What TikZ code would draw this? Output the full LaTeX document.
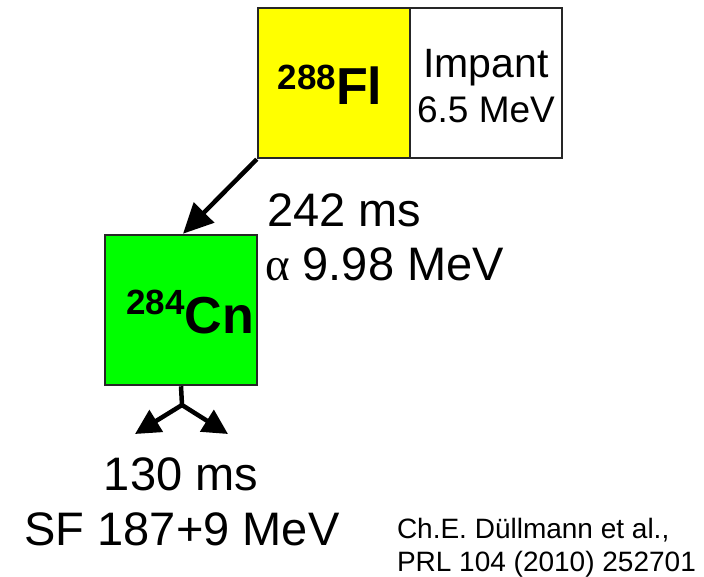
\documentclass[tikz,border=0pt]{standalone}
\usepackage{fontspec}
\setmainfont{Liberation Sans}
\newfontfamily\grkfont{Liberation Serif}
\usetikzlibrary{arrows.meta,calc}
\newcommand\fsz[1]{\fontsize{#1}{#1}\selectfont}
\definecolor{flyellow}{RGB}{255,255,0}
\definecolor{cngreen}{RGB}{0,255,0}
\tikzset{
  nucbox/.style={draw=black!85, line width=2.5pt, minimum width=152pt, minimum height=150pt, inner sep=0pt},
  txt/.style={inner sep=0pt, outer sep=0pt, text=black},
  decay/.style={line width=4.5pt, -{Triangle[length=30pt,width=28pt]}},
  sfarrow/.style={line width=4.5pt, -{Triangle[length=25pt,width=25pt]}},
}
\begin{document}
\begin{tikzpicture}[x=1pt,y=-1pt]
\useasboundingbox (0,0) rectangle (704,577);
% boxes
\node[nucbox, fill=flyellow] (fl) at (334,83) {};
\node[nucbox, fill=white] (imp) at (486,83) {};
\node[nucbox, fill=cngreen] (cn) at (181,310) {};
% box labels
\node[txt, anchor=base] (fllab) at (330,105) {\bfseries\raisebox{15pt}{\fsz{35}288}\fsz{52}Fl};
\node[txt, anchor=base] (implab) at (486,78) {\fsz{41}Impant};
\node[txt, anchor=base] (impe) at (486,123) {\fsz{37}6.5 MeV};
\node[txt, anchor=base] (cnlab) at (190,333) {\bfseries\raisebox{18pt}{\fsz{35}284}\fsz{52}Cn};
% alpha decay
\draw[decay] (fl.south west) -- ($(cn.north)+(2,0)$);
\node[txt, anchor=base west] (t1) at (267,227) {\fsz{47}242 ms};
\node[txt, anchor=base west] (t2) at (265,280) {\fsz{47}{\grkfont α} 9.98 MeV};
% SF
\coordinate (br) at (182,405);
\coordinate (sfl) at (135,434);
\coordinate (sfr) at (228,434);
\draw[line width=4.5pt] (cn.south) -- (br);
\draw[sfarrow] (br) -- (sfl);
\draw[sfarrow] (br) -- (sfr);
\node[txt, anchor=base] (t3) at (181,490) {\fsz{47}130 ms};
\node[txt, anchor=base] (t4) at (182,545) {\fsz{47}SF 187+9 MeV};
% citation
\node[txt, anchor=base west] (c1) at (397,538) {\fsz{28}Ch.E. Düllmann et al.,};
\node[txt, anchor=base west] (c2) at (397,571) {\fsz{28}PRL 104 (2010) 252701};
\end{tikzpicture}
\end{document}
